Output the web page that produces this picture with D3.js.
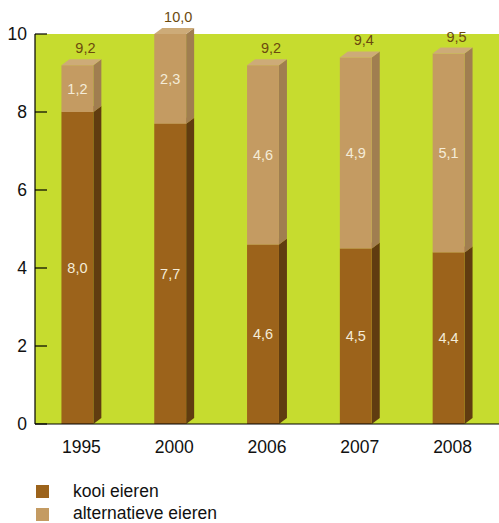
<!DOCTYPE html>
<html>
<head>
<meta charset="utf-8">
<script src="https://cdn.jsdelivr.net/npm/d3@7"></script>
<style>
  body { margin: 0; background: #fff; }
  svg { display: block; font-family: "Liberation Sans", Arial, sans-serif; }
</style>
</head>
<body>
<div class="chart"></div>
<script>
const years = ["1995", "2000", "2006", "2007", "2008"];
const kooi = [8.0, 7.7, 4.6, 4.5, 4.4];
const alternatief = [1.2, 2.3, 4.6, 4.9, 5.1];
const totals = [9.2, 10.0, 9.2, 9.4, 9.5];
const yTicks = [0, 2, 4, 6, 8, 10];
const legendLabels = ["kooi eieren", "alternatieve eieren"];

const width = 499;
const height = 523;
const plotLeft = 35, plotRight = 499, plotTop = 34, plotBottom = 424;
const depth = 8, rise = 6;

const fmt = v => d3.format(".1f")(v).replace(".", ",");

const svg = d3.select(".chart").append("svg")
  .attr("width", width)
  .attr("height", height);

const x = d3.scaleBand()
  .domain(years)
  .range([plotLeft, plotRight])
  .paddingInner(0.57)
  .paddingOuter(0.285);

const y = d3.scaleLinear()
  .domain([0, 10])
  .range([plotBottom, plotTop]);

// green plot area
svg.append("rect")
  .attr("x", plotLeft).attr("y", plotTop)
  .attr("width", plotRight - plotLeft).attr("height", plotBottom - plotTop)
  .attr("fill", "#c6dc2f");

const front = x.bandwidth() - depth;

const series = [
  { name: legendLabels[0], values: kooi, base: kooi.map(() => 0), face: "#9c631b", side: "#603c10", topc: "#a8702a" },
  { name: legendLabels[1], values: alternatief, base: kooi, face: "#c49b62", side: "#a07e50", topc: "#cdab78" }
];

series.forEach(s => {
  const g = svg.append("g");
  years.forEach((yr, i) => {
    const x0 = x(yr);
    const y1 = y(s.base[i] + s.values[i]);
    const y0 = y(s.base[i]);
    // side face
    g.append("path")
      .attr("d", `M${x0 + front},${y0} L${x0 + front + depth},${y0 - rise} L${x0 + front + depth},${y1 - rise} L${x0 + front},${y1} Z`)
      .attr("fill", s.side);
    // front face
    g.append("rect")
      .attr("x", x0).attr("y", y1)
      .attr("width", front).attr("height", y0 - y1)
      .attr("fill", s.face);
    // top face
    g.append("path")
      .attr("d", `M${x0},${y1} L${x0 + depth},${y1 - rise} L${x0 + front + depth},${y1 - rise} L${x0 + front},${y1} Z`)
      .attr("fill", s.topc);
    // value label
    g.append("text")
      .attr("x", x0 + front / 2)
      .attr("y", (y0 + y1) / 2)
      .attr("dy", "0.35em")
      .attr("text-anchor", "middle")
      .attr("fill", "#f4ecd8")
      .style("font-size", "14.5px")
      .text(fmt(s.values[i]));
  });
});

// totals
svg.append("g").selectAll("text")
  .data(totals)
  .join("text")
  .attr("x", (d, i) => x(years[i]) + front / 2 + 8)
  .attr("y", d => y(d) - 12)
  .attr("text-anchor", "middle")
  .attr("fill", "#6b4a0e")
  .style("font-size", "14.5px")
  .text(d => fmt(d));

// axes
svg.append("line")
  .attr("x1", plotLeft).attr("x2", plotLeft)
  .attr("y1", plotTop).attr("y2", plotBottom)
  .attr("stroke", "#000").attr("stroke-width", 1.2);
svg.append("line")
  .attr("x1", plotLeft).attr("x2", plotRight)
  .attr("y1", plotBottom).attr("y2", plotBottom)
  .attr("stroke", "#000").attr("stroke-width", 1.2);

const yAxis = svg.append("g");
yAxis.selectAll("line")
  .data(yTicks)
  .join("line")
  .attr("x1", plotLeft).attr("x2", plotLeft + 12)
  .attr("y1", d => y(d)).attr("y2", d => y(d))
  .attr("stroke", "#000").attr("stroke-width", 1.2);
yAxis.selectAll("text")
  .data(yTicks)
  .join("text")
  .attr("x", 27)
  .attr("y", d => y(d))
  .attr("dy", "0.35em")
  .attr("text-anchor", "end")
  .style("font-size", "17.5px")
  .attr("fill", "#111")
  .text(d => d);

svg.append("g").selectAll("text")
  .data(years)
  .join("text")
  .attr("x", d => x(d) + front / 2 + 4)
  .attr("y", 453)
  .attr("text-anchor", "middle")
  .style("font-size", "17.5px")
  .attr("fill", "#111")
  .text(d => d);

// legend
const legend = svg.append("g");
series.forEach((s, i) => {
  legend.append("rect")
    .attr("x", 36).attr("y", 485 + i * 23)
    .attr("width", 13).attr("height", 13)
    .attr("fill", s.face);
  legend.append("text")
    .attr("x", 73).attr("y", 491 + i * 22)
    .attr("dy", "0.35em")
    .style("font-size", "17.5px")
    .attr("fill", "#111")
    .text(s.name);
});
</script>
</body>
</html>
